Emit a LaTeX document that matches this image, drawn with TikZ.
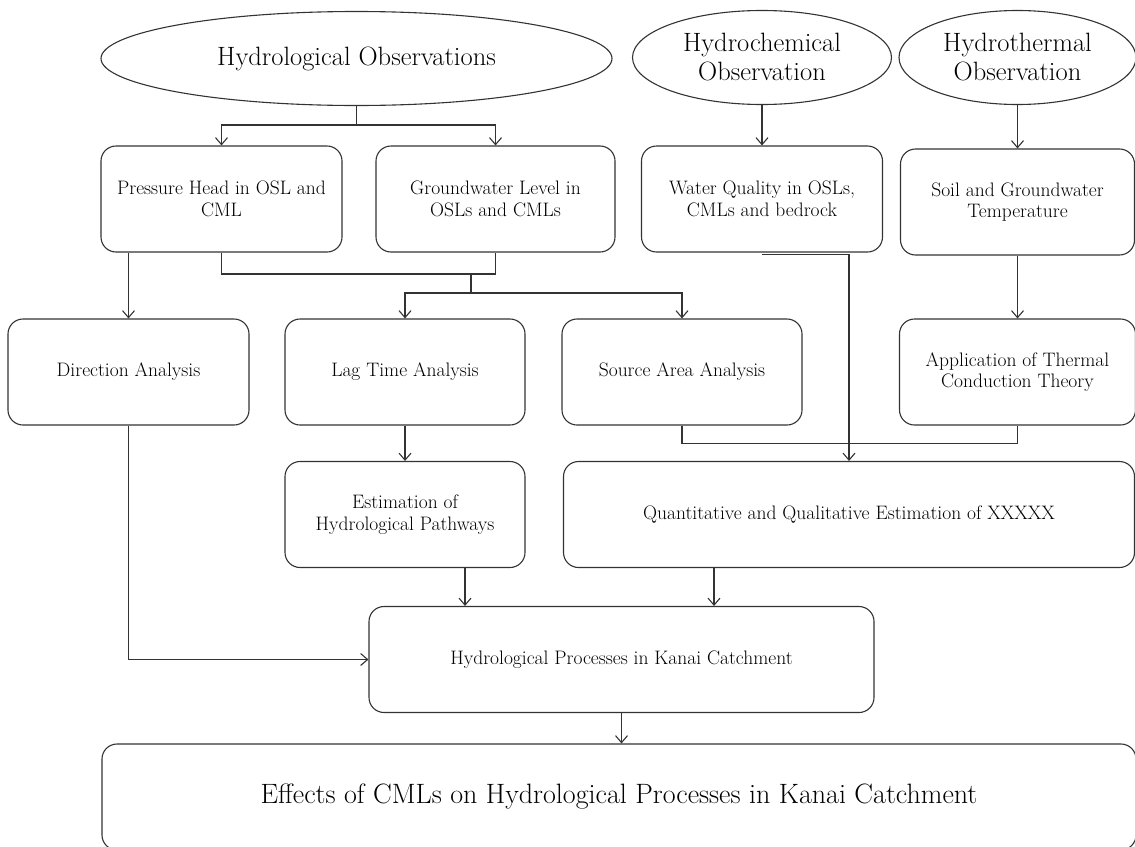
\documentclass[tikz,border=0pt]{standalone}
\usepackage{tikz}
\usetikzlibrary{shapes,arrows.meta}
\newcommand{\fcobsnode}[4] {\node at (#1) (#2) [obsellipse, minimum width=#3] {#4};}
\newcommand{\fcboxnode}[4] {\node at (#1) (#2) [fcbox, minimum width=#3] {#4};}
\newcommand{\fcdown}[2] {\draw [->] (#1) -- (#2);}

\begin{document}
\begin{tikzpicture}[x=1pt, y=-1pt, line width=1.1pt, color=black!80,
  >={Straight Barb[length=7pt,width=12pt]},
  obsellipse/.style={ellipse, draw, inner sep=0pt, minimum height=94pt, align=center, text=black, font=\fontsize{26.5}{29}\selectfont},
  fcbox/.style={rectangle, draw, rounded corners=15pt, minimum height=106pt, inner sep=0pt, align=center, text=black, font=\fontsize{19.5}{21.5}\selectfont}]

\useasboundingbox (0,0) rectangle (1135,846);

\fcobsnode {356.5,58.5}{hydobs}{511pt}{Hydrological Observations};
\fcobsnode {762,57.5}{hydchem}{259pt}{Hydrochemical\\Observation};
\fcobsnode {1017.5,57.5}{hydtherm}{237pt}{Hydrothermal\\Observation};

\fcboxnode {221.5,199}{pressure}{241pt}{Pressure Head in OSL and\\CML};
\fcboxnode {495.5,199}{gwlevel}{239pt}{Groundwater Level in\\OSLs and CMLs};
\fcboxnode {762,199}{waterq}{241pt}{Water Quality in OSLs,\\CMLs and bedrock};
\fcboxnode {1017.5,202}{soil}{234pt}{Soil and Groundwater\\Temperature};

\fcboxnode {128.5,372}{direction}{241pt}{Direction Analysis};
\fcboxnode {405,372}{lagtime}{240pt}{Lag Time Analysis};
\fcboxnode {682,372}{source}{240pt}{Source Area Analysis};
\fcboxnode {1017.5,372}{thermal}{236pt}{Application of Thermal\\Conduction Theory};

\fcboxnode {405,514.5}{estim}{240pt}{Estimation of\\Hydrological Pathways};
\fcboxnode {849,514.5}{quant}{571pt}{Quantitative and Qualitative Estimation of XXXXX};
\fcboxnode {621.5,659.5}{hydproc}{505pt}{Hydrological Processes in Kanai Catchment};
\fcboxnode {619,797}{effects}{1034pt}{\fontsize{28}{32}\selectfont Effects of CMLs on Hydrological Processes in Kanai Catchment};

% splits and joins
\coordinate (hobsplit) at (356.5,125);
\draw (hydobs.south) -- (hobsplit);
\draw [->] (hobsplit) -| (pressure);
\draw [->] (hobsplit) -| (gwlevel);

\coordinate (headjoin) at (471,274);
\coordinate (anasplit) at (471,293);
\draw (pressure.south) -- (pressure.south |- headjoin) -| (gwlevel.south);
\draw (headjoin) -- (anasplit);
\draw [->] (anasplit) -| (lagtime);
\draw [->] (anasplit) -| (source);

\draw [->] (direction |- pressure.south) -- (direction);
\fcdown{hydchem}{waterq};
\fcdown{hydtherm}{soil};
\fcdown{soil}{thermal};
\fcdown{lagtime}{estim};

\draw [->] ([yshift=-2pt]waterq.south) -| (quant.north);
\draw (source.south) -- ++(0,18) -| (thermal.south);

\coordinate (estimout) at ([xshift=60pt]estim.south);
\coordinate (quantout) at ([xshift=-135pt]quant.south);
\draw [->] (estimout) -- (estimout |- hydproc.north);
\draw [->] (quantout) -- (quantout |- hydproc.north);
\draw [->] (direction) |- (hydproc);
\draw [->] (hydproc) -- (hydproc |- effects.north);

\end{tikzpicture}
\end{document}
